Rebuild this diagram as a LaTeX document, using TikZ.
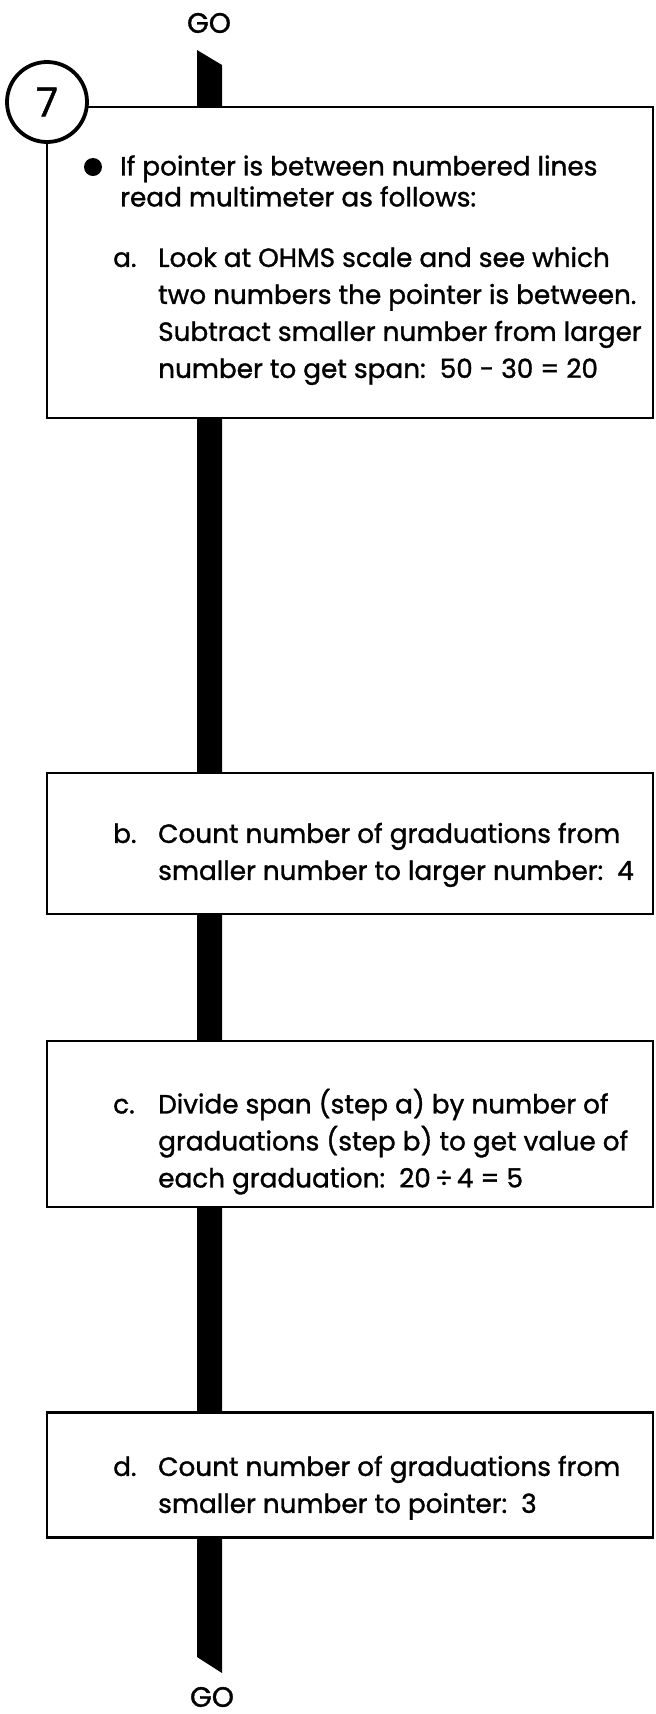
\documentclass[tikz,border=0pt]{standalone}
\usepackage{fontspec}
\usepackage{tikz}
\setmainfont{Poppins}[UprightFeatures={FakeBold=1.2}]
\newcommand{\itemtag}[1]{\makebox[45pt][l]{#1}}

\begin{document}
\begin{tikzpicture}[x=1pt,y=1pt,yscale=-1,xscale=1,
  stepbox/.style={draw, line width=2.8pt, fill=white, rectangle, inner sep=0pt},
  steptext/.style={anchor=west, inner sep=0pt, align=left, font=\fontsize{26.3}{37}\selectfont},
  golabel/.style={inner sep=0pt, font=\fontsize{28}{30}\selectfont}]
\useasboundingbox (0,0) rectangle (656,1714);
%Shape: Flow bar (drawn first, boxes cover it)
\coordinate (barNW) at (197,50);
\coordinate (barNE) at (222,65);
\coordinate (barSE) at (222,1673);
\coordinate (barSW) at (197,1657);
\fill (barNW) -- (barNE) -- (barSE) -- (barSW) -- cycle;
%Shape: Rectangle [step 7]
\node [stepbox, minimum width=606pt, minimum height=311pt] (box1) at (350,262.5) {};
%Shape: Circle [step number]
\node [circle, draw, line width=3.8pt, fill=white, minimum size=80pt, inner sep=0pt, font=\fontsize{40}{40}\selectfont] (num) at (47,102) {7};
%Shape: Rectangle [b]
\node [stepbox, minimum width=606pt, minimum height=141pt] (boxb) at (350,843.5) {};
%Shape: Rectangle [c]
\node [stepbox, minimum width=606pt, minimum height=166pt] (boxc) at (350,1124) {};
%Shape: Rectangle [d]
\node [stepbox, minimum width=606pt, minimum height=125pt] (boxd) at (350,1475) {};
%Shape: Circle [bullet]
\node [circle, fill, minimum size=18pt, inner sep=0pt] (dot) at (93,167) {};
% Text Node
\node [golabel] (gotop) at (209,23) {GO};
% Text Node
\node [golabel] (gobot) at (212,1697) {GO};
% Text Node
\node [steptext, font=\fontsize{26.3}{31}\selectfont] (lead) at (120,181) {If pointer is between numbered lines\\read multimeter as follows:};
% Text Node
\node [steptext] (texta) at (113,315) {\begin{tabular}{@{}l@{}l@{}}
\itemtag{a.}&Look at OHMS scale and see which\\
&two numbers the pointer is between.\\
&Subtract smaller number from larger\\
&number to get span:\ \ 50 - 30 = 20
\end{tabular}};
% Text Node
\node [steptext] (textb) at (113,854) {\begin{tabular}{@{}l@{}l@{}}
\itemtag{b.}&Count number of graduations from\\
&smaller number to larger number:\ \ 4
\end{tabular}};
% Text Node
\node [steptext] (textc) at (113,1143) {\begin{tabular}{@{}l@{}l@{}}
\itemtag{c.}&Divide span (step a) by number of\\
&graduations (step b) to get value of\\
&each graduation:\ \ 20\,÷\,4 = 5
\end{tabular}};
% Text Node
\node [steptext] (textd) at (113,1487) {\begin{tabular}{@{}l@{}l@{}}
\itemtag{d.}&Count number of graduations from\\
&smaller number to pointer:\ \ 3
\end{tabular}};
\end{tikzpicture}
\end{document}
